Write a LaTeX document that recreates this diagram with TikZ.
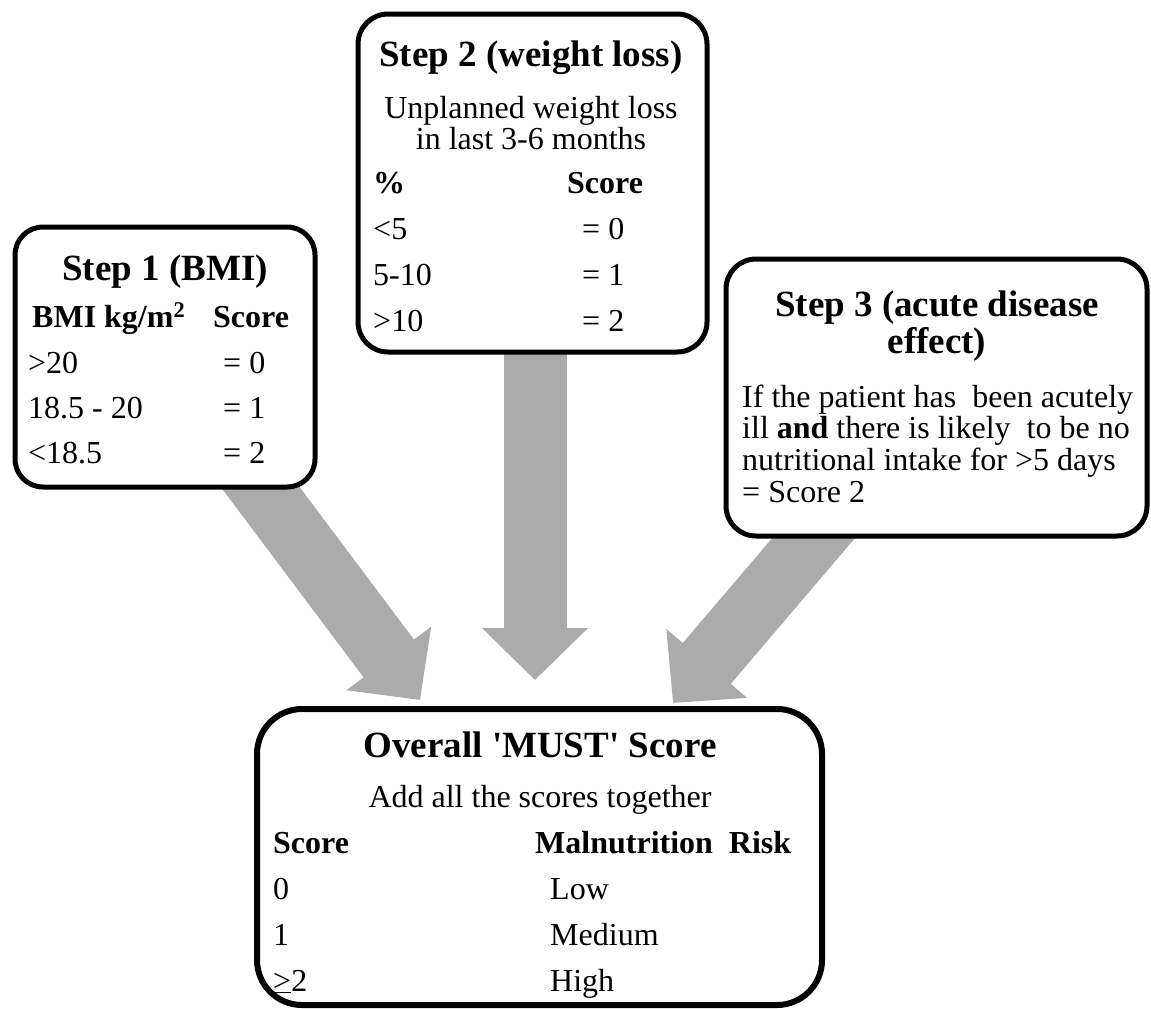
\documentclass[tikz,border=0pt]{standalone}
\usepackage{fontspec}
\setmainfont{Liberation Serif}
\usetikzlibrary{arrows.meta}
\definecolor{arrowgray}{HTML}{ABABAB}
\begin{document}
\begin{tikzpicture}[x=1pt,y=-1pt,
  stepbox/.style={draw=black, fill=white, line width=5pt, rounded corners=28pt, inner sep=0pt, outer sep=0pt},
  ttl/.style={anchor=base, inner sep=0pt, font=\fontsize{37}{40}\selectfont\bfseries},
  txtc/.style={anchor=base, inner sep=0pt, font=\fontsize{32}{34}\selectfont},
  txt/.style={anchor=base west, inner sep=0pt, font=\fontsize{32}{34}\selectfont},
  txtb/.style={anchor=base west, inner sep=0pt, font=\fontsize{32}{34}\selectfont\bfseries},
  fat/.style={draw=arrowgray, line width=63pt, -{Triangle[length=52pt,width=103pt]}}
]
\useasboundingbox (0,0) rectangle (1151,1009);
\fill[white] (0,0) rectangle (1151,1009);

% arrow coordinates
\coordinate (t1) at (240,460);
\coordinate (h1) at (420,700);
\coordinate (t2) at (535,330);
\coordinate (h2) at (535,680);
\coordinate (t3) at (835,513);
\coordinate (h3) at (673,703);
\draw[fat] (t1) -- (h1);
\draw[fat] (t2) -- (h2);
\draw[fat] (t3) -- (h3);

% boxes
\node[stepbox, minimum width=300pt, minimum height=260pt] (b1) at (165,357) {};
\node[stepbox, minimum width=349pt, minimum height=338pt, rounded corners=30pt] (b2) at (532.5,183) {};
\node[stepbox, minimum width=421pt, minimum height=277pt, rounded corners=30pt] (b3) at (936.5,397.5) {};
\node[stepbox, minimum width=565pt, minimum height=296pt, rounded corners=45pt, line width=6pt] (b4) at (539.5,857) {};

% box 1 text
\node[ttl] (s1t) at (165,280) {Step 1 (BMI)};
\node[txtb] (s1h1) at (32,327) {BMI kg/m\textsuperscript{2}};
\node[txtb] (s1h2) at (213,327) {Score};
\node[txt] (s1a) at (28,373) {>20};
\node[txt] (s1b) at (28,418) {18.5 - 20};
\node[txt] (s1c) at (28,463) {<18.5};
\node[txt] (s1d) at (223,373) {= 0};
\node[txt] (s1e) at (223,418) {= 1};
\node[txt] (s1f) at (223,463) {= 2};

% box 2 text
\node[ttl] (s2t) at (531,66) {Step 2 (weight loss)};
\node[txtc] (s2l1) at (531,118) {Unplanned weight loss};
\node[txtc] (s2l2) at (531,149) {in last 3-6 months};
\node[txtb] (s2h1) at (373,193) {\%};
\node[txtb] (s2h2) at (567,193) {Score};
\node[txt] (s2a) at (373,239) {<5};
\node[txt] (s2b) at (373,285) {5-10};
\node[txt] (s2c) at (373,331) {>10};
\node[txt] (s2d) at (582,239) {= 0};
\node[txt] (s2e) at (582,285) {= 1};
\node[txt] (s2f) at (582,331) {= 2};

% box 3 text
\node[ttl] (s3t1) at (937,316) {Step 3 (acute disease};
\node[ttl] (s3t2) at (937,353) {effect)};
\node[txt] (s3a) at (742,407) {If the patient has\ \ been acutely};
\node[txt] (s3b) at (742,438) {ill \textbf{and} there is likely\ \ to be no};
\node[txt] (s3c) at (742,470) {nutritional intake for >5 days};
\node[txt] (s3d) at (742,502) {= Score 2};

% box 4 text
\node[ttl] (s4t) at (540,757) {Overall \textquotesingle MUST\textquotesingle\ Score};
\node[txtc] (s4l) at (540,807) {Add all the scores together};
\node[txtb] (s4h1) at (273,853) {Score};
\node[txtb] (s4h2) at (535,853) {Malnutrition\ \ Risk};
\node[txt] (s4a) at (273,899) {0};
\node[txt] (s4b) at (273,945) {1};
\node[txt] (s4c) at (273,991) {\underline{>}2};
\node[txt] (s4d) at (550,899) {Low};
\node[txt] (s4e) at (550,945) {Medium};
\node[txt] (s4f) at (550,991) {High};
\end{tikzpicture}
\end{document}
